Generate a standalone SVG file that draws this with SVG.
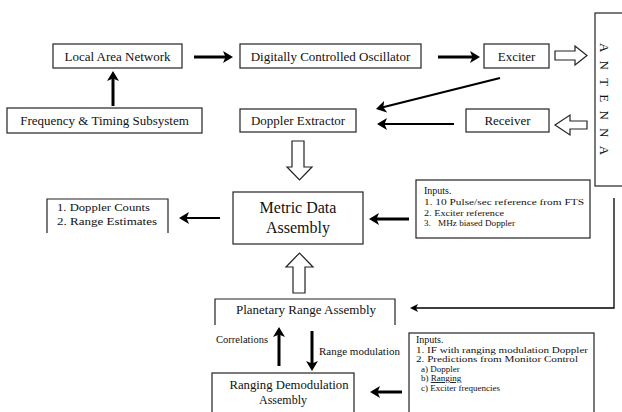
<svg xmlns="http://www.w3.org/2000/svg" width="622" height="412" viewBox="0 0 622 412">
<style>
  .box{fill:#fff;stroke:#222;stroke-width:1.2}
  .open{fill:none;stroke:#222;stroke-width:1.2}
  .lbl{font-family:"Liberation Serif","Times New Roman",serif;font-size:13px;fill:#111;text-anchor:middle}
  .big{font-family:"Liberation Serif","Times New Roman",serif;font-size:16px;fill:#111;text-anchor:middle}
  .sm{font-family:"Liberation Serif","Times New Roman",serif;font-size:11px;fill:#111}
  .xs{font-family:"Liberation Serif","Times New Roman",serif;font-size:9px;fill:#111}
  .thick{stroke:#000;stroke-width:3;fill:none}
  .mid{stroke:#000;stroke-width:2.2;fill:none}
  .thin{stroke:#000;stroke-width:1.3;fill:none}
  .hollow{fill:#fff;stroke:#222;stroke-width:1.2;stroke-linejoin:miter}
</style>
<defs>
  <marker id="ah" viewBox="0 0 10 12" refX="7" refY="6" markerWidth="10" markerHeight="12" markerUnits="userSpaceOnUse" orient="auto">
    <path d="M0,0 L10,6 L0,12 L2.5,6 Z" fill="#000"/>
  </marker>
</defs>
<rect width="622" height="412" fill="#fff"/>

<g id="lan"><rect class="box" x="53" y="44" width="129" height="24"/><text class="lbl" x="117.5" y="61">Local Area Network</text></g>
<g id="dco"><rect class="box" x="240" y="44" width="181" height="24"/><text class="lbl" x="330.5" y="61">Digitally Controlled Oscillator</text></g>
<g id="exciter"><rect class="box" x="484" y="44" width="65" height="24"/><text class="lbl" x="516.5" y="61">Exciter</text></g>
<g id="fts"><rect class="box" x="7" y="108" width="195" height="25"/><text class="lbl" x="104.5" y="125">Frequency &amp; Timing Subsystem</text></g>
<g id="doppler"><rect class="box" x="240" y="109" width="116" height="23"/><text class="lbl" x="298" y="125">Doppler Extractor</text></g>
<g id="receiver"><rect class="box" x="466" y="109" width="83" height="23"/><text class="lbl" x="507.5" y="125">Receiver</text></g>
<g id="antenna"><rect class="box" x="595" y="13" width="40" height="173"/><text class="lbl" style="text-anchor:start;letter-spacing:8.2px" transform="translate(600,43) rotate(90)">ANTENNA</text></g>
<g id="mda"><rect class="box" x="233" y="192" width="130" height="52"/><text class="big" x="298" y="213">Metric Data</text><text class="big" x="298" y="233">Assembly</text></g>
<g id="outputs"><path class="open" d="M47,233 V199 H168 V233"/>
  <text class="sm" x="57" y="211" textLength="93" lengthAdjust="spacingAndGlyphs">1. Doppler Counts</text>
  <text class="sm" x="57" y="224.5" textLength="100" lengthAdjust="spacingAndGlyphs">2. Range Estimates</text></g>
<g id="inputs1"><rect class="box" x="416" y="180" width="174" height="58"/>
  <text class="xs" style="font-size:10px" x="424" y="194">Inputs.</text>
  <text class="xs" x="424" y="205" textLength="160" lengthAdjust="spacingAndGlyphs">1. 10 Pulse/sec reference from FTS</text>
  <text class="xs" x="424" y="215.5" textLength="80" lengthAdjust="spacingAndGlyphs">2. Exciter reference</text>
  <text class="xs" y="226"><tspan x="424">3.</tspan><tspan x="438" textLength="77" lengthAdjust="spacingAndGlyphs">MHz biased Doppler</tspan></text>
</g>
<g id="pra"><path class="open" d="M215,325 V299 H395 V325"/><text class="lbl" x="306" y="314">Planetary Range Assembly</text></g>
<g id="rda"><rect class="box" x="212" y="373" width="142" height="60"/>
  <text class="lbl" style="font-size:12px" x="289" y="389" textLength="119" lengthAdjust="spacingAndGlyphs">Ranging Demodulation</text>
  <text class="lbl" style="font-size:12px" x="283" y="403.5">Assembly</text></g>
<g id="inputs2"><rect class="box" x="409" y="333" width="185" height="100"/>
  <text class="xs" style="font-size:10px" x="416" y="343">Inputs.</text>
  <text class="xs" x="416" y="352.5" textLength="172" lengthAdjust="spacingAndGlyphs">1. IF with ranging modulation Doppler</text>
  <text class="xs" x="416" y="362" textLength="162" lengthAdjust="spacingAndGlyphs">2. Predictions from Monitor Control</text>
  <text class="xs" x="421" y="371.5">a) Doppler</text>
  <text class="xs" x="421" y="381">b) <tspan text-decoration="underline">Ranging</tspan></text>
  <text class="xs" x="421" y="390.5">c) Exciter frequencies</text>
</g>
<g id="labels">
  <text class="sm" style="font-size:10.5px;text-anchor:end" x="268" y="343">Correlations</text>
  <text class="sm" x="319" y="355">Range modulation</text>
</g>

<g id="connectors">
  <line class="thick" x1="194" y1="57" x2="230" y2="57" marker-end="url(#ah)"/>
  <line class="thick" x1="113" y1="106" x2="113" y2="74" marker-end="url(#ah)"/>
  <line class="thick" x1="438" y1="57" x2="477" y2="57" marker-end="url(#ah)"/>
  <line class="mid" x1="500" y1="78" x2="378.9" y2="108.3" marker-end="url(#ah)"/>
  <line class="mid" x1="454" y1="124" x2="380" y2="124" marker-end="url(#ah)"/>
  <line class="mid" x1="220" y1="218" x2="182" y2="218" marker-end="url(#ah)"/>
  <line class="thick" x1="409" y1="219" x2="372" y2="219" marker-end="url(#ah)"/>
  <line class="thick" x1="279" y1="366" x2="279" y2="330" marker-end="url(#ah)"/>
  <line class="thick" x1="312" y1="331" x2="312" y2="368" marker-end="url(#ah)"/>
  <line class="thick" x1="402" y1="392" x2="373" y2="392" marker-end="url(#ah)"/>
  <polyline class="thin" points="614,198 614,308 414,308"/>
  <path d="M410,308 L418,304 L416,308 L418,312 Z" fill="#000"/>
  <path class="hollow" d="M555,51 H575 V46 L587,55.5 L575,65 V60 H555 Z"/>
  <path class="hollow" d="M587,121 H570 V115 L555,125 L570,135 V129 H587 Z"/>
  <path class="hollow" d="M292,141 H304 V167 H312 L299.5,180 L287,167 H292 Z"/>
  <path class="hollow" d="M293,293 V267 H286 L299.5,253 L313,267 H305 V293 Z"/>
</g>
</svg>
